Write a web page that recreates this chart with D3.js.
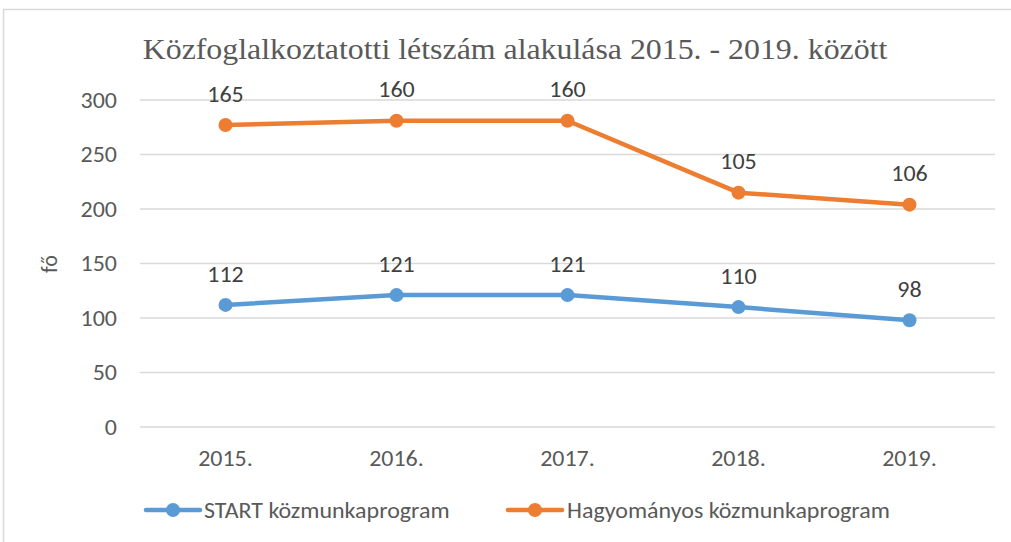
<!DOCTYPE html>
<html><head><meta charset="utf-8">
<script src="https://cdn.jsdelivr.net/npm/d3@7"></script>
<style>body{margin:0;background:#fff}</style>
</head><body><svg id="c" width="1011" height="542"></svg>
<script>
const years = ["2015.","2016.","2017.","2018.","2019."];
const startVals = [112,121,121,110,98];
const hagyVals = [165,160,160,105,106];
const yTicks = [0,50,100,150,200,250,300];
const title = "Közfoglalkoztatotti létszám alakulása 2015. - 2019. között";
const yLabel = "fő";
const seriesNames = ["START közmunkaprogram","Hagyományos közmunkaprogram"];
const colors = ["#5B9BD5","#ED7D31"];

const svg = d3.select("#c");
const fontS = "Carlito, Calibri, Lato, 'Liberation Sans', sans-serif";
const SX = 1.09;
function txt(g, x0, y0, s, opts) {
  const t = g.append("text").attr("transform",`translate(${x0},${y0}) scale(${opts.sx||SX},1)`)
    .attr("dy","0.35em").attr("text-anchor",opts.anchor||"start")
    .attr("font-family",opts.font||fontS).attr("font-size",opts.size||22)
    .attr("fill",opts.fill||"#595959").text(s);
  return t;
}
svg.append("rect").attr("x",3.5).attr("y",9.5).attr("width",1030).attr("height",560)
  .attr("fill","none").attr("stroke","#D9D9D9").attr("stroke-width",1.5);

const x = d3.scaleBand().domain(years).range([140,995]);
const y = d3.scaleLinear().domain([0,300]).range([427,100]);
const cx = i => x(years[i]) + x.bandwidth()/2;

svg.append("text").attr("transform","translate(515,59) scale(1.08,1)").attr("text-anchor","middle")
  .attr("font-family","'Liberation Serif', 'Times New Roman', serif").attr("font-size",29.5)
  .attr("fill","#595959").text(title);

svg.append("g").selectAll("line").data(yTicks).join("line")
  .attr("x1",140).attr("x2",995).attr("y1",d=>y(d)).attr("y2",d=>y(d))
  .attr("stroke","#D9D9D9").attr("stroke-width",1.5);

const yl = svg.append("g");
yTicks.forEach(d => txt(yl, 117, y(d), d, {anchor:"end"}));
const xl = svg.append("g");
years.forEach((d,i) => txt(xl, cx(i), 458, d, {anchor:"middle"}));

svg.append("text").attr("transform","translate(49,264) rotate(-90)").attr("text-anchor","middle")
  .attr("dy","0.35em").attr("font-family",fontS).attr("font-size",22).attr("fill","#595959").text(yLabel);

const stacked = [startVals, startVals.map((v,i)=>v+hagyVals[i])];
const labels = [startVals, hagyVals];
const line = d3.line().x((d,i)=>cx(i)).y(d=>y(d));
stacked.forEach((s,k)=>{
  svg.append("path").datum(s).attr("d",line).attr("fill","none")
    .attr("stroke",colors[k]).attr("stroke-width",4.5).attr("stroke-linejoin","round").attr("stroke-linecap","round");
  svg.append("g").selectAll("circle").data(s).join("circle")
    .attr("cx",(d,i)=>cx(i)).attr("cy",d=>y(d)).attr("r",7).attr("fill",colors[k]);
  const lg = svg.append("g");
  s.forEach((d,i)=>txt(lg, cx(i), y(d)-31, labels[k][i], {anchor:"middle", fill:"#404040"}));
});

const leg = [{x:146,tx:204},{x:508,tx:567}];
leg.forEach((l,k)=>{
  svg.append("line").attr("x1",l.x).attr("x2",l.x+54).attr("y1",510).attr("y2",510)
    .attr("stroke",colors[k]).attr("stroke-width",4.5).attr("stroke-linecap","round");
  svg.append("circle").attr("cx",l.x+27).attr("cy",510).attr("r",7).attr("fill",colors[k]);
  txt(svg, l.tx, 510, seriesNames[k], {});
});
</script></body></html>
